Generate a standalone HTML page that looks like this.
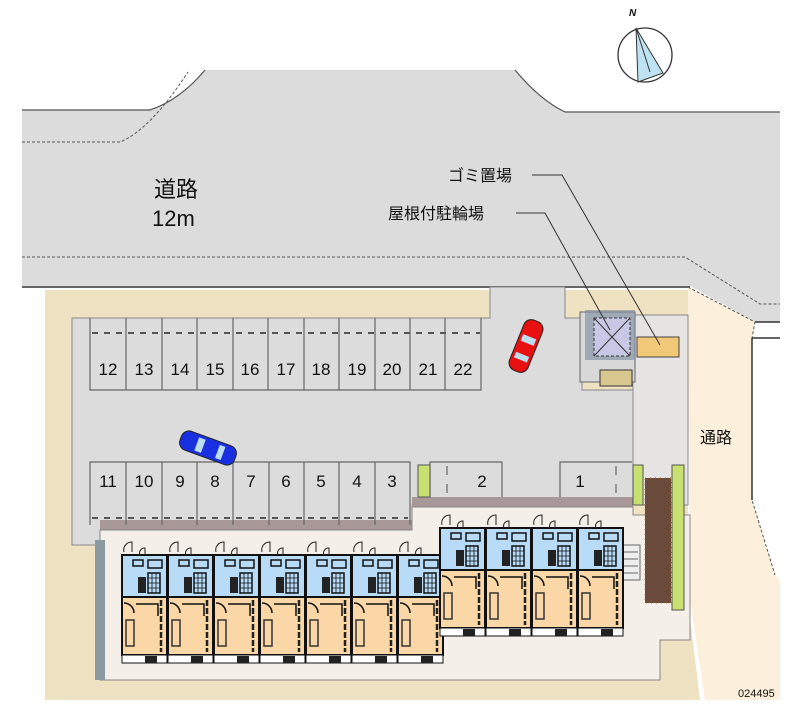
<!DOCTYPE html>
<html><head><meta charset="utf-8"><style>
html,body{margin:0;padding:0;background:#fff;width:800px;height:727px;overflow:hidden}
svg{display:block}
text{font-family:"Liberation Sans","Noto Sans CJK JP",sans-serif;fill:#111}
</style></head><body>
<svg width="800" height="727" viewBox="0 0 800 727" xmlns="http://www.w3.org/2000/svg">
<path d="M22,110 L150,110 Q180,100 205,70 L515,70 Q540,100 565,112 L780,112 L780,322 L755,322 L690,286 L22,286 Z" fill="#dcdcdc"/>
<path d="M22,110 L150,110 Q180,100 205,70 M515,70 Q540,100 565,112 L780,112" stroke="#555" fill="none" stroke-width="1.2"/>
<path d="M22,142 L120,142 Q150,130 188,72 M22,257 L685,257 L760,304 L780,304" stroke="#555" fill="none" stroke-width="1" stroke-dasharray="3,2"/>
<line x1="22" y1="287" x2="690" y2="287" stroke="#666" stroke-width="2"/>
<path d="M688,287 L755,322 L752,338 L752,500 L775,575 L780,580 L780,700 L705,700 L690,600 L688,300 Z" fill="#fcefdc"/>
<path d="M688,287 L755,322 L752,338 L752,500 L775,575" stroke="#555" fill="none" stroke-width="1" stroke-dasharray="3,2"/>
<path d="M755,322 L780,322 M752,338 L780,338 M752,338 L752,500" stroke="#333" stroke-width="1.5" fill="none"/>
<path d="M45,290 L688,290 L688,600 L700,700 L45,700 Z" fill="#efe2c2"/>
<path d="M72,318 L490,318 L490,287 L565,287 L565,318 L582,318 L582,390 L633,390 L633,505 L412,505 L412,530 L100,530 L100,545 L72,545 Z" fill="#dcdcdc" stroke="#888" stroke-width="1"/>
<path d="M630,315 L688,315 L688,505 L633,505 L633,390 Z" fill="#e6e4e2" stroke="#888" stroke-width="1"/>
<rect x="100" y="520" width="312" height="10" fill="#a89898"/>
<rect x="412" y="497" width="221" height="10" fill="#a89898"/>
<path d="M100,530 L412,530 L412,507 L633,507 L633,515 L690,515 L690,640 L660,640 L660,680 L100,680 Z" fill="#f4efe9" stroke="#888" stroke-width="1"/>
<path d="M100,540 L100,680" stroke="#8a9aa0" stroke-width="10"/>
<g stroke="#666" stroke-width="1.2" fill="none">
<path d="M90,318 L90,390 L481,390 L481,318"/>
<path d="M126,318V390M162,318V390M197,318V390M233,318V390M268,318V390M304,318V390M339,318V390M375,318V390M410,318V390M445,318V390"/>
<path d="M92,333 L480,333" stroke="#555" stroke-width="2" stroke-dasharray="6,6"/>
<path d="M90,525 L90,462 L410,462 L410,525"/>
<path d="M126,462V525M162,462V525M197,462V525M233,462V525M269,462V525M304,462V525M339,462V525M375,462V525"/>
<path d="M92,518 L408,518" stroke="#555" stroke-width="2" stroke-dasharray="6,6"/>
<path d="M430,497 L430,462 L502,462 L502,497 M447,466V475M447,484V493"/>
<path d="M560,497 L560,462 L632,462 M616,466V475M616,484V493"/>
</g>
<g font-size="17" text-anchor="middle">
<text x="108" y="375">12</text><text x="144" y="375">13</text><text x="180" y="375">14</text><text x="215" y="375">15</text><text x="250" y="375">16</text><text x="286" y="375">17</text><text x="321" y="375">18</text><text x="357" y="375">19</text><text x="392" y="375">20</text><text x="428" y="375">21</text><text x="463" y="375">22</text>
<text x="108" y="487">11</text><text x="144" y="487">10</text><text x="180" y="487">9</text><text x="215" y="487">8</text><text x="251" y="487">7</text><text x="286" y="487">6</text><text x="321" y="487">5</text><text x="357" y="487">4</text><text x="392" y="487">3</text>
<text x="482" y="487">2</text><text x="580" y="487">1</text>
</g>
<rect x="418" y="465" width="12" height="32" fill="#c8e070" stroke="#555"/>
<rect x="633" y="465" width="10" height="40" fill="#c8e070" stroke="#555"/>
<rect x="672" y="465" width="12" height="145" fill="#c8e070" stroke="#555"/>
<rect x="645" y="478" width="26" height="125" fill="#6a4a3a"/>
<rect x="645" y="478" width="26" height="125" fill="none" stroke="#c06020" stroke-dasharray="1,4"/>
<rect x="610" y="545" width="30" height="35" fill="#eee" stroke="#666"/>
<path d="M612,552H638M612,559H638M612,566H638M612,573H638" stroke="#666"/>
<rect x="580" y="312" width="55" height="70" fill="#d8d8d8" stroke="#666"/>
<rect x="585" y="310" width="50" height="50" fill="#7a8aa0" opacity="0.6"/>
<rect x="594" y="318" width="36" height="38" fill="#c8c8e6" stroke="#333" stroke-dasharray="3,2"/>
<path d="M594,318 L630,356 M630,318 L594,356" stroke="#333"/>
<rect x="600" y="370" width="32" height="16" fill="#d8c890" stroke="#333"/>
<rect x="637" y="337" width="42" height="20" fill="#f0c878" stroke="#444"/>
<g transform="translate(526,346) rotate(22)"><rect x="-10" y="-27" width="20" height="54" rx="8" fill="#e81010" stroke="#222"/><rect x="-7" y="-10" width="14" height="7" fill="#bde"/><rect x="-7" y="9" width="14" height="6" fill="#bde"/></g>
<g transform="translate(208,448) rotate(-70)"><rect x="-10" y="-29" width="20" height="58" rx="8" fill="#1830e0" stroke="#222"/><rect x="-7" y="-12" width="14" height="7" fill="#bde"/><rect x="-7" y="10" width="14" height="6" fill="#bde"/></g>
<g id="u">
<rect x="122" y="555" width="45" height="42" fill="#b8dcf8" stroke="#111" stroke-width="2"/>
<rect x="122" y="597" width="45" height="58" fill="#fbd6a6" stroke="#111" stroke-width="2"/>
<rect x="122" y="655" width="45" height="8" fill="#fff" stroke="#111"/>
<path d="M124,552 a8,8 0 0 1 8,-10 L132,552 M140,555 a5,5 0 0 1 5,-7 L145,555" fill="none" stroke="#222"/>
<rect x="133" y="560" width="10" height="6" fill="none" stroke="#111" stroke-width="1.5"/>
<rect x="148" y="560" width="14" height="8" fill="none" stroke="#111" stroke-width="1.5"/>
<rect x="138" y="577" width="8" height="16" fill="#222"/>
<rect x="148" y="573" width="12" height="20" fill="none" stroke="#111" stroke-width="1.5"/>
<path d="M148,578H160M148,583H160M148,588H160M152,573V593M156,573V593" stroke="#111" stroke-width="0.8"/>
<path d="M124,603 a10,10 0 0 1 10,10 M136,604 H158 V616" fill="none" stroke="#111" stroke-width="1.5"/>
<rect x="126" y="620" width="8" height="26" fill="none" stroke="#333" stroke-width="1.5"/>
<path d="M161,600 V652" stroke="#222" stroke-width="2.5" stroke-dasharray="6,2"/>
<rect x="145" y="656" width="12" height="7" fill="#222"/>
</g>
<use href="#u" x="46"/><use href="#u" x="92"/><use href="#u" x="138"/><use href="#u" x="184"/><use href="#u" x="230"/><use href="#u" x="276"/>
<use href="#u" x="318" y="-27"/><use href="#u" x="364" y="-27"/><use href="#u" x="410" y="-27"/><use href="#u" x="456" y="-27"/>
<path d="M532,175 L562,175 L660,345 M516,213 L545,213 L610,330" stroke="#333" fill="none"/>
<g font-size="16"><text x="448" y="181">ゴミ置場</text><text x="388" y="219">屋根付駐輪場</text></g>
<text x="154" y="197" font-size="22">道路</text>
<text x="152" y="226" font-size="22">12m</text>
<text x="700" y="443" font-size="16">通路</text>
<text x="738" y="697" font-size="11">024495</text>
<circle cx="645" cy="55" r="27" fill="none" stroke="#333" stroke-width="1.3"/>
<path d="M636,28 L638,82 L663,73 Z" fill="#bfe2f2" stroke="#333"/>
<path d="M636,28 L650,72" stroke="#333"/>
<text x="629" y="16" font-size="10" font-style="italic" font-weight="bold">N</text>
</svg>
</body></html>
